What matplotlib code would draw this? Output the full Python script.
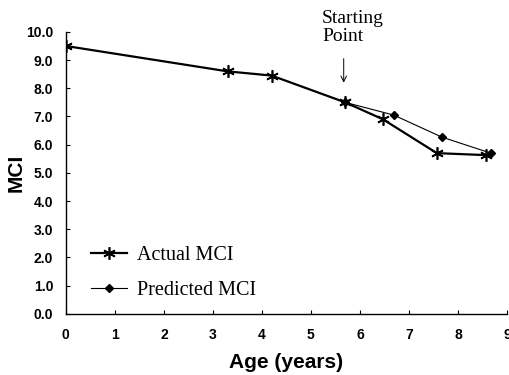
import matplotlib
matplotlib.use("Agg")
import matplotlib.pyplot as plt

# Values
actual_age = [0.0, 3.3, 4.2, 5.7, 6.47, 7.57, 8.57]
actual_mci = [9.5, 8.6, 8.45, 7.5, 6.9, 5.7, 5.63]
predicted_age = [5.7, 6.69, 7.67, 8.67]
predicted_mci = [7.5, 7.05, 6.27, 5.7]
x_ticks = list(range(0, 10))
y_ticks = [0, 1, 2, 3, 4, 5, 6, 7, 8, 9, 10]
start_age = 5.7
start_mci = 7.5

sans_bold = {"family": ["Liberation Sans", "DejaVu Sans"], "weight": "bold"}
serif = ["Liberation Serif", "DejaVu Serif"]

fig = plt.figure(figsize=(5.1, 3.75), dpi=100)
ax = fig.add_axes([0.129, 0.163, 0.865, 0.752])

ax.plot(predicted_age, predicted_mci, color="black", linewidth=0.8,
        marker="D", markersize=4, label="Predicted MCI", zorder=2)
ax.plot(actual_age, actual_mci, color="black", linewidth=1.6,
        marker=(6, 2, 0), markersize=9, markeredgewidth=1.2,
        label="Actual MCI", zorder=3)

ax.set_xlim(0, 9)
ax.set_ylim(0, 10)
ax.set_xticks(x_ticks)
ax.set_yticks(y_ticks)
ax.set_xticklabels([str(t) for t in x_ticks], fontdict=sans_bold, fontsize=10)
ax.set_yticklabels([f"{t:.1f}" for t in y_ticks], fontdict=sans_bold, fontsize=10)
ax.tick_params(direction="in", length=3, width=0.8)
ax.tick_params(axis="x", pad=10)
ax.tick_params(axis="y", pad=9)
for side in ("top", "right"):
    ax.spines[side].set_visible(False)
for side in ("left", "bottom"):
    ax.spines[side].set_linewidth(1.0)

ax.set_xlabel("Age (years)", fontdict=sans_bold, fontsize=15, labelpad=8)
ax.set_ylabel("MCI", fontdict=sans_bold, fontsize=15)
ax.yaxis.set_label_coords(-0.09, 0.5)

# Starting point annotation
ax.annotate("", xy=(start_age - 0.03, start_mci + 0.6), xytext=(start_age - 0.03, start_mci + 1.65),
            arrowprops=dict(arrowstyle="->", color="black", linewidth=0.7))
ax.text(start_age - 0.47, start_mci + 2.05, "Starting\nPoint", family=serif, fontsize=14,
        ha="left", va="bottom", linespacing=1.05)

handles, labels = ax.get_legend_handles_labels()
leg = ax.legend(handles[::-1], labels[::-1], loc="lower left", bbox_to_anchor=(0.015, -0.015),
                frameon=False, prop={"family": serif, "size": 14.5},
                handlelength=1.8, handletextpad=0.5, labelspacing=0.8)

fig.savefig("out.png", dpi=100)
